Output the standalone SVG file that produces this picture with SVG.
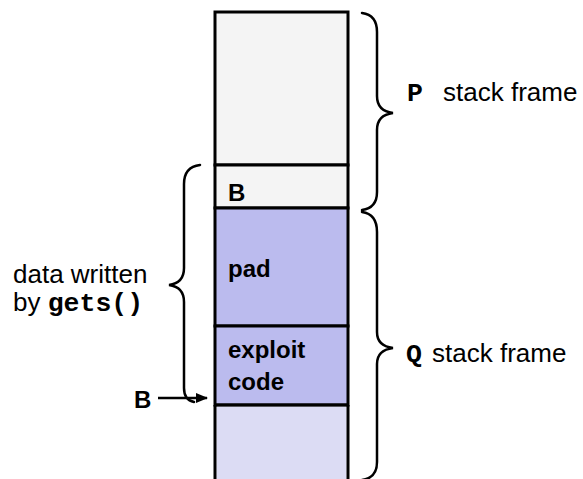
<svg xmlns="http://www.w3.org/2000/svg" width="583" height="479" viewBox="0 0 583 479">
<style>
.cell{stroke:#000;stroke-width:3}
.brace{fill:none;stroke:#000;stroke-width:2.5;stroke-linecap:round}
.lbl{font-family:"Liberation Sans",Arial,sans-serif;font-weight:bold;font-size:24px;fill:#000}
.txt{font-family:"Liberation Sans",Arial,sans-serif;font-size:26px;fill:#000}
.mono{font-family:"Liberation Mono","Courier New",monospace;font-weight:bold;font-size:26.5px;fill:#000}
</style>
<defs>
<marker id="ah" markerWidth="12" markerHeight="12" refX="11" refY="6" orient="auto" markerUnits="userSpaceOnUse">
<path d="M0,1 L12,6 L0,11 Z" fill="#000"/>
</marker>
</defs>
<g id="frame-p">
<rect class="cell" x="215" y="12" width="133" height="153" fill="#f4f4f4"/>
</g>
<g id="cell-b">
<rect class="cell" x="215" y="165" width="133" height="43" fill="#f4f4f4"/>
<text class="lbl" x="228" y="201">B</text>
</g>
<g id="cell-pad">
<rect class="cell" x="215" y="208" width="133" height="118" fill="#bbbbee"/>
<text class="lbl" x="228" y="277">pad</text>
</g>
<g id="cell-exploit">
<rect class="cell" x="215" y="326" width="133" height="79" fill="#bbbbee"/>
<text class="lbl" x="228" y="358">exploit</text>
<text class="lbl" x="228" y="390">code</text>
</g>
<g id="cell-bottom">
<rect x="216.5" y="406.5" width="130" height="75" fill="#dcdcf4"/>
<path class="cell" d="M215,405 H348 M215,405 V482 M348,405 V482" fill="none"/>
</g>
<g id="brace-p">
<path class="brace" d="M362,13 Q377,15 377,32 V96 Q377,111 393,113 Q377,115 377,130 V192 Q377,208 362,210"/>
<text class="mono" x="407" y="101">P</text>
<text class="txt" x="443" y="101">stack frame</text>
</g>
<g id="brace-q">
<path class="brace" d="M362,212 Q377,214 377,232 V332 Q377,346 393,348 Q377,350 377,364 V462 Q377,478 362,480"/>
<text class="mono" x="406" y="362">Q</text>
<text class="txt" x="432" y="362">stack frame</text>
</g>
<g id="brace-gets">
<path class="brace" d="M200,165 Q184,167 184,184 V268 Q184,283 169,285 Q184,287 184,302 V388 Q184,400 194,402"/>
<text class="txt" x="13" y="283">data written</text>
<text class="txt" x="13" y="311">by <tspan class="mono">gets()</tspan></text>
</g>
<g id="connectors">
<line x1="158" y1="398" x2="207" y2="398" stroke="#000" stroke-width="2.5" marker-end="url(#ah)"/>
<text class="lbl" x="134" y="408">B</text>
</g>
</svg>
